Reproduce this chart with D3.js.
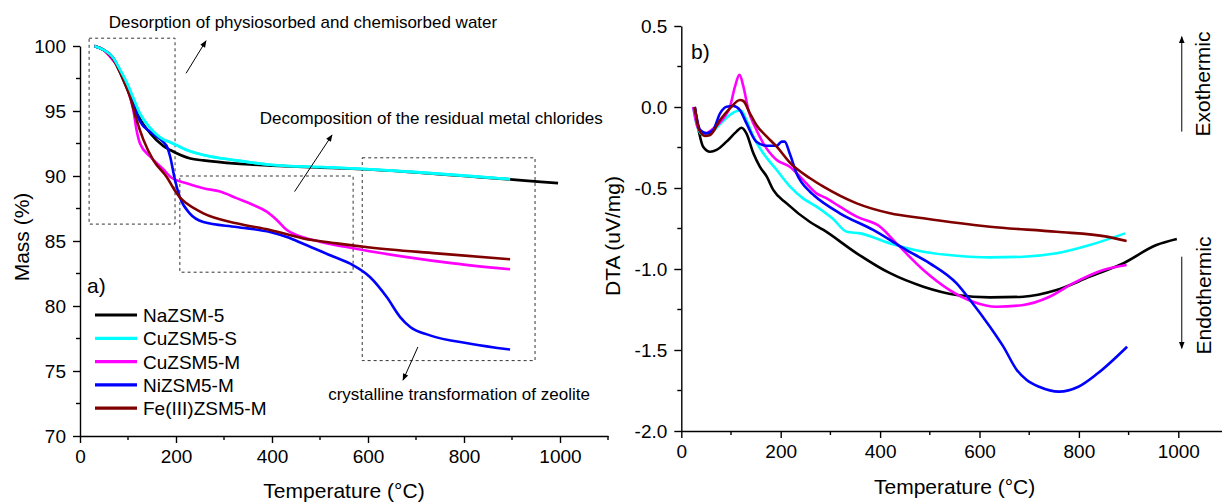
<!DOCTYPE html>
<html>
<head>
<meta charset="utf-8">
<script src="https://cdn.jsdelivr.net/npm/d3@7"></script>
<style>
  html,body{margin:0;padding:0;background:#fff;}
  svg{display:block;font-family:"Liberation Sans",Arial,sans-serif;}
  .axis path,.axis line{stroke:#000;stroke-width:1.4;}
  .axis text{font-size:19px;fill:#000;font-family:"Liberation Sans",Arial,sans-serif;}
  .ttl{font-size:21px;fill:#000;}
  .note{font-size:17px;fill:#000;}
  .box{fill:none;stroke:#333;stroke-width:1;stroke-dasharray:3,3;}
  .curve{fill:none;stroke-width:2.6;stroke-linejoin:round;}
</style>
</head>
<body>
<div id="chart"></div>
<script>
/* TGA (a) and DTA (b) curves of the ZSM-5 samples */
var seriesNames=["NaZSM-5","CuZSM5-S","CuZSM5-M","NiZSM5-M","Fe(III)ZSM5-M"];
var seriesColors=["#000000","#00ffff","#ff00ff","#0000ff","#800000"];
var xTicks=[0,200,400,600,800,1000];
var massTicks=[70,75,80,85,90,95,100];
var dtaTicks=[-2.0,-1.5,-1.0,-0.5,0.0,0.5];

/* mass (%) vs temperature, [T, value] */
var massNa=[[30,100],[49,99.7],[69,99.05],[83,98.0],[97,96.8],[111,95.6],[125,94.4],[146,93.3],[174,92.3],[188,92.0],[230,91.35],[257,91.2],[326,90.95],[400,90.8],[493,90.65],[604,90.5],[700,90.27],[800,90.0],[896,89.74],[960,89.55],[996,89.45]];
var massCuS=[[30,100],[49,99.7],[69,99.1],[83,98.2],[97,97.2],[111,96.0],[125,94.8],[146,93.7],[174,92.8],[188,92.6],[222,92.0],[257,91.62],[326,91.2],[396,90.87],[500,90.69],[604,90.52],[700,90.3],[800,90.03],[896,89.76]];
var massCuM=[[30,100],[49,99.7],[62,99.2],[83,98.15],[97,96.9],[111,95.1],[118,93.5],[125,92.5],[146,91.5],[174,90.5],[188,89.95],[222,89.44],[257,89.06],[292,88.8],[326,88.3],[361,87.77],[389,87.26],[410,86.62],[431,85.85],[451,85.46],[500,84.95],[569,84.44],[674,83.8],[778,83.28],[896,82.82]];
var massNi=[[30,100],[49,99.7],[69,99.1],[83,98.1],[101,96.6],[111,95.5],[125,94.2],[146,93.4],[174,92.6],[182,92.2],[188,91.46],[198,89.67],[208,88.38],[229,87.1],[257,86.46],[326,86.08],[396,85.69],[431,85.3],[465,84.79],[521,83.9],[569,83.13],[604,82.23],[639,80.69],[667,79.15],[688,78.38],[729,77.74],[813,77.1],[896,76.65]];
var massFe=[[30,100],[49,99.7],[69,99.0],[83,98.0],[104,96.1],[118,94.3],[132,92.8],[153,91.2],[181,89.9],[199,88.8],[208,88.35],[222,87.9],[257,87.13],[326,86.36],[396,85.85],[465,85.2],[535,84.82],[604,84.5],[743,84.05],[896,83.6]];

/* DTA (uV/mg) vs temperature, [T, value] */
var dtaNa=[[27,0],[36,-0.16],[44,-0.245],[58,-0.276],[71,-0.265],[91,-0.214],[111,-0.152],[121,-0.128],[131,-0.163],[145,-0.286],[158,-0.368],[172,-0.43],[185,-0.512],[212,-0.595],[259,-0.71],[286,-0.759],[353,-0.903],[420,-1.026],[487,-1.109],[554,-1.16],[621,-1.175],[688,-1.171],[755,-1.13],[822,-1.047],[889,-0.965],[956,-0.852],[997,-0.815]];
var dtaCuS=[[24,0],[32,-0.121],[44,-0.173],[58,-0.163],[78,-0.105],[98,-0.049],[115,-0.023],[121,-0.025],[131,-0.08],[145,-0.183],[165,-0.286],[192,-0.389],[219,-0.492],[245,-0.564],[272,-0.615],[305,-0.69],[333,-0.77],[360,-0.78],[420,-0.842],[487,-0.893],[554,-0.918],[621,-0.928],[688,-0.924],[755,-0.903],[822,-0.852],[893,-0.78]];
var dtaCuM=[[24,0],[34,-0.132],[48,-0.163],[65,-0.132],[85,-0.07],[98,0.002],[108,0.126],[117,0.198],[125,0.126],[135,-0.019],[148,-0.121],[165,-0.224],[192,-0.327],[219,-0.37],[245,-0.45],[272,-0.533],[290,-0.56],[319,-0.615],[353,-0.677],[400,-0.739],[433,-0.842],[487,-1.006],[540,-1.13],[587,-1.202],[634,-1.233],[688,-1.222],[741,-1.171],[788,-1.089],[849,-1.006],[896,-0.975]];
var dtaNi=[[27,0],[38,-0.142],[51,-0.163],[64,-0.142],[78,-0.039],[91,0.002],[105,0.006],[118,-0.019],[131,-0.1],[151,-0.214],[172,-0.239],[192,-0.239],[202,-0.214],[208,-0.214],[218,-0.286],[232,-0.41],[259,-0.523],[266,-0.543],[319,-0.656],[386,-0.759],[453,-0.883],[500,-0.965],[554,-1.089],[581,-1.191],[621,-1.356],[648,-1.479],[675,-1.623],[695,-1.685],[720,-1.727],[760,-1.757],[799,-1.727],[838,-1.644],[897,-1.48]];
var dtaFe=[[27,0],[36,-0.142],[48,-0.179],[58,-0.173],[78,-0.08],[98,-0.008],[118,0.043],[125,0.037],[138,-0.039],[151,-0.111],[172,-0.183],[192,-0.245],[219,-0.345],[259,-0.44],[286,-0.492],[353,-0.595],[420,-0.656],[487,-0.687],[621,-0.739],[755,-0.77],[856,-0.8],[896,-0.827]];

var massSeries=[massNa,massCuS,massCuM,massNi,massFe];
var dtaSeries=[dtaNa,dtaCuS,dtaCuM,dtaNi,dtaFe];

var W=1222,H=503;
var svg=d3.select("#chart").append("svg").attr("width",W).attr("height",H);
var defs=svg.append("defs");
defs.append("marker").attr("id","ah").attr("viewBox","0 0 10 10").attr("refX",9).attr("refY",5)
    .attr("markerWidth",9).attr("markerHeight",7).attr("markerUnits","userSpaceOnUse").attr("orient","auto")
    .append("path").attr("d","M0,1 L10,5 L0,9 Z").attr("fill","#000");

function drawAxes(g,x,y,yTicks,yFmt,yMinor){
    var xa=g.append("g").attr("class","axis").attr("transform","translate(0,"+y.range()[0]+")");
    xa.call(d3.axisBottom(x).tickValues(xTicks).tickFormat(d3.format("d")).tickSize(7).tickPadding(7).tickSizeOuter(0));
    xa.append("g").selectAll("line").data(d3.range(100,1101,200)).enter().append("line")
        .attr("x1",function(d){return x(d);}).attr("x2",function(d){return x(d);}).attr("y1",0).attr("y2",4);
    xa.selectAll("line").style("stroke","#000").style("stroke-width",1.4);
    var ya=g.append("g").attr("class","axis").attr("transform","translate("+x.range()[0]+",0)");
    ya.call(d3.axisLeft(y).tickValues(yTicks).tickFormat(yFmt).tickSize(7).tickPadding(7).tickSizeOuter(0));
    ya.append("g").selectAll("line").data(yMinor).enter().append("line")
        .attr("y1",function(d){return y(d);}).attr("y2",function(d){return y(d);}).attr("x1",0).attr("x2",-4);
    ya.selectAll("line").style("stroke","#000").style("stroke-width",1.4);
}

/* ---- panel a: mass loss ---- */
var xa=d3.scaleLinear().domain([0,1100]).range([80,608]);
var ya=d3.scaleLinear().domain([70,100]).range([436,46]);
var ga=svg.append("g");
drawAxes(ga,xa,ya,massTicks,d3.format("d"),[72.5,77.5,82.5,87.5,92.5,97.5]);

var lineA=d3.line().x(function(d){return xa(d[0]);}).y(function(d){return ya(d[1]);}).curve(d3.curveMonotoneX);
/* annotation boxes, in data units: [T0,T1,M0,M1] */
var boxes=[[19,198,100.6,86.3],[208,569,90.0,82.6],[588,948,91.4,75.8]];
ga.selectAll("rect.box").data(boxes).enter().append("rect").attr("class","box")
    .attr("x",function(d){return xa(d[0]);}).attr("width",function(d){return xa(d[1])-xa(d[0]);})
    .attr("y",function(d){return ya(d[2]);}).attr("height",function(d){return ya(d[3])-ya(d[2]);});

ga.selectAll("path.curve").data(massSeries).enter().append("path").attr("class","curve")
    .attr("stroke",function(d,i){return seriesColors[i];}).attr("d",lineA);
/* cyan drawn over black where they overlap */
ga.append("path").attr("class","curve").attr("stroke",seriesColors[1]).attr("d",lineA(massCuS));

var arrowsA=[[221,97.9,262.5,100.4],[447,88.8,525,93.15],[704,76.85,673,74.3]];
ga.selectAll("line.arr").data(arrowsA).enter().append("line").attr("class","arr")
    .attr("x1",function(d){return xa(d[0]);}).attr("y1",function(d){return ya(d[1]);})
    .attr("x2",function(d){return xa(d[2]);}).attr("y2",function(d){return ya(d[3]);})
    .attr("stroke","#000").attr("stroke-width",1).attr("marker-end","url(#ah)");
var notesA=[["Desorption of physiosorbed and chemisorbed water",60,101.4],
            ["Decomposition of the residual metal chlorides",374.6,94.0],
            ["crystalline transformation of zeolite",517,72.8]];
ga.selectAll("text.note").data(notesA).enter().append("text").attr("class","note")
    .attr("x",function(d){return xa(d[1]);}).attr("y",function(d){return ya(d[2]);}).text(function(d){return d[0];});

ga.append("text").attr("class","ttl").attr("x",87).attr("y",293).text("a)");
ga.append("text").attr("class","ttl").attr("x",344).attr("y",498).attr("text-anchor","middle").text("Temperature (\u00b0C)");
ga.append("text").attr("class","ttl").attr("transform","translate(28.5,237) rotate(-90)").attr("text-anchor","middle").text("Mass (%)");

/* legend */
var lg=ga.append("g").attr("transform","translate(95,315)");
seriesNames.forEach(function(s,i){
    var r=lg.append("g").attr("transform","translate(0,"+(i*23.3)+")");
    r.append("line").attr("x1",0).attr("x2",42).attr("y1",0).attr("y2",0).attr("stroke",seriesColors[i]).attr("stroke-width",3.2);
    r.append("text").attr("x",48).attr("y",7).style("font-size","19px").text(s);
});

/* ---- panel b: DTA ---- */
var xb=d3.scaleLinear().domain([0,1100]).range([681.3,1228]);
var yb=d3.scaleLinear().domain([-2,0.5]).range([431,26]);
var gb=svg.append("g");
drawAxes(gb,xb,yb,dtaTicks,function(d){return d.toFixed(1);},[-1.75,-1.25,-0.75,-0.25,0.25]);

var lineB=d3.line().x(function(d){return xb(d[0]);}).y(function(d){return yb(d[1]);}).curve(d3.curveMonotoneX);
gb.selectAll("path.curve").data(dtaSeries).enter().append("path").attr("class","curve")
    .attr("stroke",function(d,i){return seriesColors[i];}).attr("d",lineB);

var arrowsB=[[1007,-0.152,1007,0.434],[1007,-0.924,1007,-1.49]];
gb.selectAll("line.arr").data(arrowsB).enter().append("line").attr("class","arr")
    .attr("x1",function(d){return xb(d[0]);}).attr("y1",function(d){return yb(d[1]);})
    .attr("x2",function(d){return xb(d[2]);}).attr("y2",function(d){return yb(d[3]);})
    .attr("stroke","#000").attr("stroke-width",1).attr("marker-end","url(#ah)");
var notesB=[["Exothermic",1064,0.142],["Endothermic",1066,-1.164]];
gb.selectAll("text.side").data(notesB).enter().append("text").attr("class","ttl side")
    .attr("text-anchor","middle")
    .attr("transform",function(d){return "translate("+xb(d[1])+","+yb(d[2])+") rotate(-90)";})
    .text(function(d){return d[0];});

gb.append("text").attr("class","ttl").attr("x",691).attr("y",59).text("b)");
gb.append("text").attr("class","ttl").attr("x",954.6).attr("y",494).attr("text-anchor","middle").text("Temperature (\u00b0C)");
gb.append("text").attr("class","ttl").attr("transform","translate(620,236) rotate(-90)").attr("text-anchor","middle").text("DTA (uV/mg)");
</script>
</body>
</html>
